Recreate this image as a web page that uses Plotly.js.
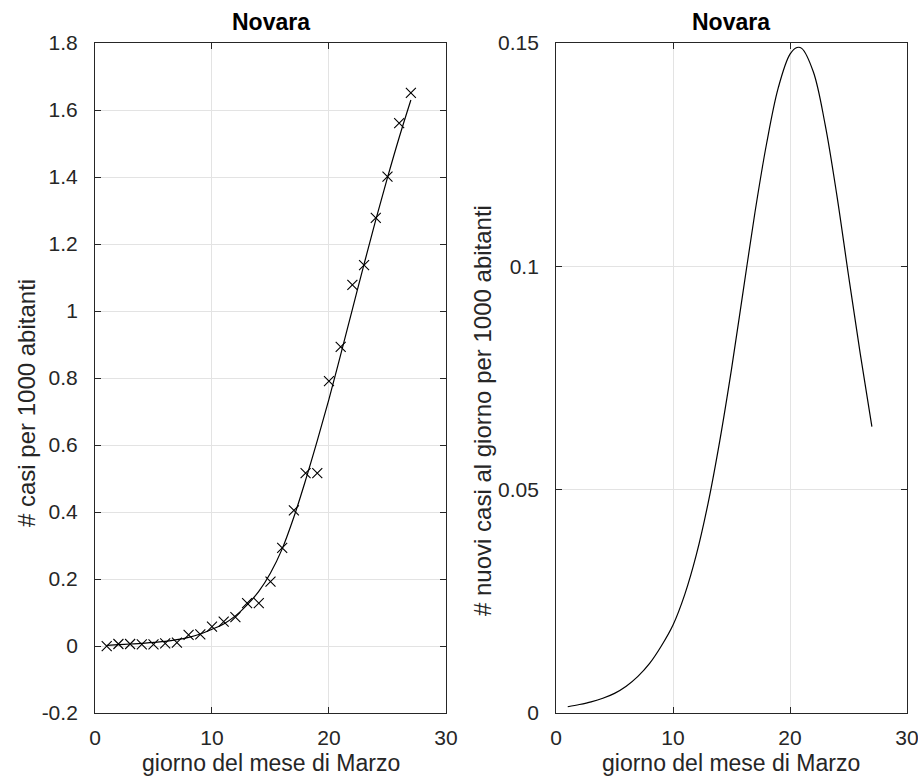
<!DOCTYPE html>
<html>
<head>
<meta charset="utf-8">
<script src="https://cdn.plot.ly/plotly-3.0.1.min.js"></script>
<style>html,body{margin:0;padding:0;background:#fff;}#chart{width:918px;height:779px;}</style>
</head>
<body>
<div id="chart"></div>
<script>
// Observed data (cases per 1000 inhabitants), days of March
const days = [1,2,3,4,5,6,7,8,9,10,11,12,13,14,15,16,17,18,19,20,21,22,23,24,25,26,27];
const casi = [0.0,0.006,0.006,0.005,0.005,0.008,0.010,0.033,0.035,0.058,0.073,0.086,0.128,0.128,0.192,0.293,0.405,0.516,0.516,0.791,0.893,1.078,1.137,1.278,1.401,1.561,1.651];

// Fitted curve
const fitDays = [1,2,3,4,5,6,7,8,9,10,11,12,13,14,15,16,17,18,19,20,21,22,23,24,25,26,27];
const fitCasi = [0.002,0.004,0.006,0.008,0.011,0.014,0.019,0.026,0.036,0.050,0.066,0.090,0.123,0.163,0.218,0.290,0.385,0.495,0.613,0.737,0.870,1.005,1.140,1.272,1.398,1.518,1.630];

// Daily new cases curve
const rateDays = [1,2,3,4,5,6,7,8,9,10,11,12,13,14,15,16,17,18,19,20,20.6,21,22,23,24,25,26,27];
const rateVals = [0.0014,0.0019,0.0025,0.0033,0.0044,0.0060,0.0082,0.0111,0.0150,0.0197,0.0265,0.0355,0.0470,0.0610,0.0770,0.0945,0.1120,0.1275,0.1400,0.1475,0.1490,0.1488,0.1435,0.1318,0.1160,0.0980,0.0805,0.0641];

// Tick labels
const xTicks = [0,10,20,30];
const xTickText = ['0','10','20','30'];
const y1Ticks = [-0.2,0,0.2,0.4,0.6,0.8,1,1.2,1.4,1.6,1.8];
const y1TickText = ['-0.2','0','0.2','0.4','0.6','0.8','1','1.2','1.4','1.6','1.8'];
const y2Ticks = [0,0.05,0.1,0.15];
const y2TickText = ['0','0.05','0.1','0.15'];

const FONT = 'Liberation Sans, Arial, Helvetica, sans-serif';
const AX = '#262626';
const GRID = '#e3e3e3';

const traces = [
  {x: fitDays, y: fitCasi, xaxis: 'x', yaxis: 'y', mode: 'lines', type: 'scatter',
   line: {color: '#000', width: 1.2, shape: 'spline', smoothing: 1}, hoverinfo: 'skip'},
  {x: days, y: casi, xaxis: 'x', yaxis: 'y', mode: 'markers', type: 'scatter',
   marker: {symbol: 'x-thin', size: 10, line: {color: '#000', width: 1.1}}},
  {x: rateDays, y: rateVals, xaxis: 'x2', yaxis: 'y2', mode: 'lines', type: 'scatter',
   line: {color: '#000', width: 1.2, shape: 'spline', smoothing: 1}}
];

function xAxis(domain, anchor) {
  return {domain: domain, anchor: anchor, range: [0, 30], tickmode: 'array', tickvals: xTicks, ticktext: xTickText,
    ticks: 'inside', ticklen: 6, tickcolor: AX, tickwidth: 1, showline: true, linecolor: AX, linewidth: 1,
    mirror: 'ticks', showgrid: true, gridcolor: GRID, gridwidth: 1, zeroline: false, ticklabeloverflow: 'allow',
    tickfont: {family: FONT, size: 21, color: '#262626'}, ticklabelstandoff: 6, fixedrange: true};
}
function yAxis(range, tv, tt, anchor) {
  return {domain: [0.0847, 0.9448], anchor: anchor, range: range, tickmode: 'array', tickvals: tv, ticktext: tt,
    ticks: 'inside', ticklen: 6, tickcolor: AX, tickwidth: 1, showline: true, linecolor: AX, linewidth: 1,
    mirror: 'ticks', showgrid: true, gridcolor: GRID, gridwidth: 1, zeroline: false, ticklabeloverflow: 'allow',
    tickfont: {family: FONT, size: 21, color: '#262626'}, ticklabelstandoff: 12, fixedrange: true};
}

const layout = {
  width: 918, height: 779,
  margin: {l: 0, r: 0, t: 0, b: 0},
  paper_bgcolor: '#fff', plot_bgcolor: '#fff',
  showlegend: false,
  font: {family: FONT, color: '#262626'},
  xaxis: xAxis([0.1035, 0.4858], 'y'),
  yaxis: yAxis([-0.2, 1.8], y1Ticks, y1TickText, 'x'),
  xaxis2: xAxis([0.6057, 0.9880], 'y2'),
  yaxis2: yAxis([0, 0.15], y2Ticks, y2TickText, 'x2'),
  annotations: [
    {text: '<b>Novara</b>', xref: 'paper', yref: 'paper', x: 0.2947, y: 1 - 22/779, showarrow: false,
     xanchor: 'center', yanchor: 'middle', font: {family: FONT, size: 23, color: '#000'}},
    {text: '<b>Novara</b>', xref: 'paper', yref: 'paper', x: 0.7968, y: 1 - 22/779, showarrow: false,
     xanchor: 'center', yanchor: 'middle', font: {family: FONT, size: 23, color: '#000'}},
    {text: 'giorno del mese di Marzo', xref: 'paper', yref: 'paper', x: 0.2947, y: 1 - 763/779, showarrow: false,
     xanchor: 'center', yanchor: 'middle', font: {family: FONT, size: 23, color: '#262626'}},
    {text: 'giorno del mese di Marzo', xref: 'paper', yref: 'paper', x: 0.7968, y: 1 - 763/779, showarrow: false,
     xanchor: 'center', yanchor: 'middle', font: {family: FONT, size: 23, color: '#262626'}},
    {text: '# casi per 1000 abitanti', xref: 'paper', yref: 'paper', x: 26/918, y: 1 - 403/779, showarrow: false,
     textangle: -90, xanchor: 'center', yanchor: 'middle', font: {family: FONT, size: 24, color: '#262626'}},
    {text: '# nuovi casi al giorno per 1000 abitanti', xref: 'paper', yref: 'paper', x: 482/918, y: 1 - 410/779, showarrow: false,
     textangle: -90, xanchor: 'center', yanchor: 'middle', font: {family: FONT, size: 24, color: '#262626'}}
  ]
};

Plotly.newPlot('chart', traces, layout, {staticPlot: true, displayModeBar: false});
</script>
</body>
</html>
